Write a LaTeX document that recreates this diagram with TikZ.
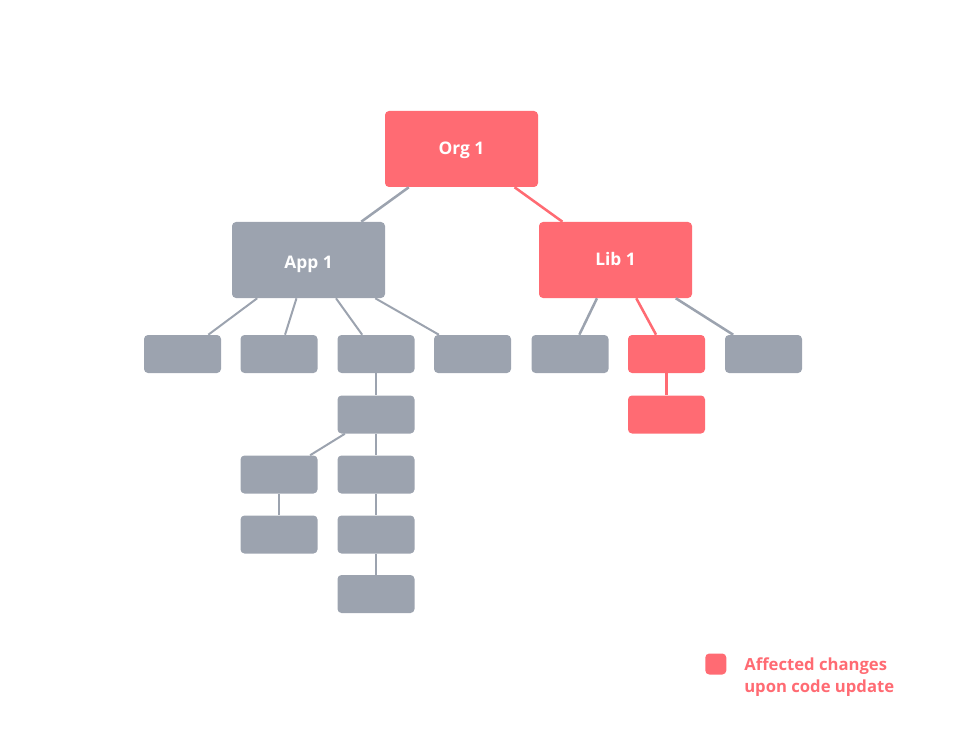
\documentclass[tikz,border=0pt]{standalone}
\usepackage{fontspec}
\setmainfont{Open Sans}
\definecolor{hot}{HTML}{FF6B73}
\definecolor{cool}{HTML}{9CA3AF}
\newcommand\lowered[2]{\raisebox{-#1}[0pt][0pt]{#2}}
\begin{document}
\begin{tikzpicture}[x=0.75pt,y=-0.75pt,
  big/.style={rounded corners=3pt, minimum width=114.75pt, minimum height=57pt, inner sep=0pt, text=white, font=\bfseries\fontsize{13}{15}\selectfont},
  small/.style={rounded corners=3pt, minimum width=57.75pt, minimum height=28.5pt, inner sep=0pt},
  hotbox/.style={fill=hot},
  coolbox/.style={fill=cool},
  hotline/.style={draw=hot, line width=1.9pt},
  coolthick/.style={draw=cool, line width=1.9pt},
  coolline/.style={draw=cool, line width=1.5pt}
]
\useasboundingbox (0,0) rectangle (980,748);
% main nodes
\node[big,hotbox]  (org) at (461.5,149) {\lowered{4pt}{Org 1}};
\node[big,coolbox] (app) at (308.5,260) {\lowered{6.75pt}{App 1}};
\node[big,hotbox]  (lib) at (615.5,260) {\lowered{4pt}{Lib 1}};
% app children
\node[small,coolbox] (a1) at (182.5,354) {};
\node[small,coolbox] (a2) at (279,354) {};
\node[small,coolbox] (a3) at (376,354) {};
\node[small,coolbox] (a4) at (472.5,354) {};
% lib children
\node[small,coolbox] (l1) at (570,354) {};
\node[small,hotbox]  (l2) at (666.5,354) {};
\node[small,coolbox] (l3) at (763.5,354) {};
\node[small,hotbox]  (l2b) at (666.5,414.5) {};
% stack under a3
\node[small,coolbox] (s1) at (376,414.5) {};
\node[small,coolbox] (s2) at (376,474.5) {};
\node[small,coolbox] (s3) at (376,534.5) {};
\node[small,coolbox] (s4) at (376,594) {};
\node[small,coolbox] (t1) at (279,474.5) {};
\node[small,coolbox] (t2) at (279,534.5) {};
% connectors
\draw[coolthick] (org) -- (app);
\draw[hotline] (org) -- (lib);
\draw[coolline] (app) -- (a1);
\draw[coolline] (app) -- (a2);
\draw[coolline] (app) -- (a3);
\draw[coolline] (app) -- (a4);
\draw[coolthick] (lib) -- (l1);
\draw[hotline] (lib) -- (l2);
\draw[coolthick] (lib) -- (l3);
\draw[hotline] (l2) -- (l2b);
\draw[coolline] (a3) -- (s1);
\draw[coolline] (s1) -- (s2);
\draw[coolline] (s2) -- (s3);
\draw[coolline] (s3) -- (s4);
\draw[coolline] (s1) -- (t1);
\draw[coolline] (t1) -- (t2);
% legend
\node[fill=hot, rounded corners=3pt, minimum size=15.75pt, inner sep=0pt] (key) at (715.8,664) {};
\node[anchor=west, align=left, inner sep=0pt, text=hot, font=\bfseries\fontsize{12.5}{16.5}\selectfont] (keytext) at (744,677) {Affected changes\\upon code update};
\end{tikzpicture}
\end{document}
